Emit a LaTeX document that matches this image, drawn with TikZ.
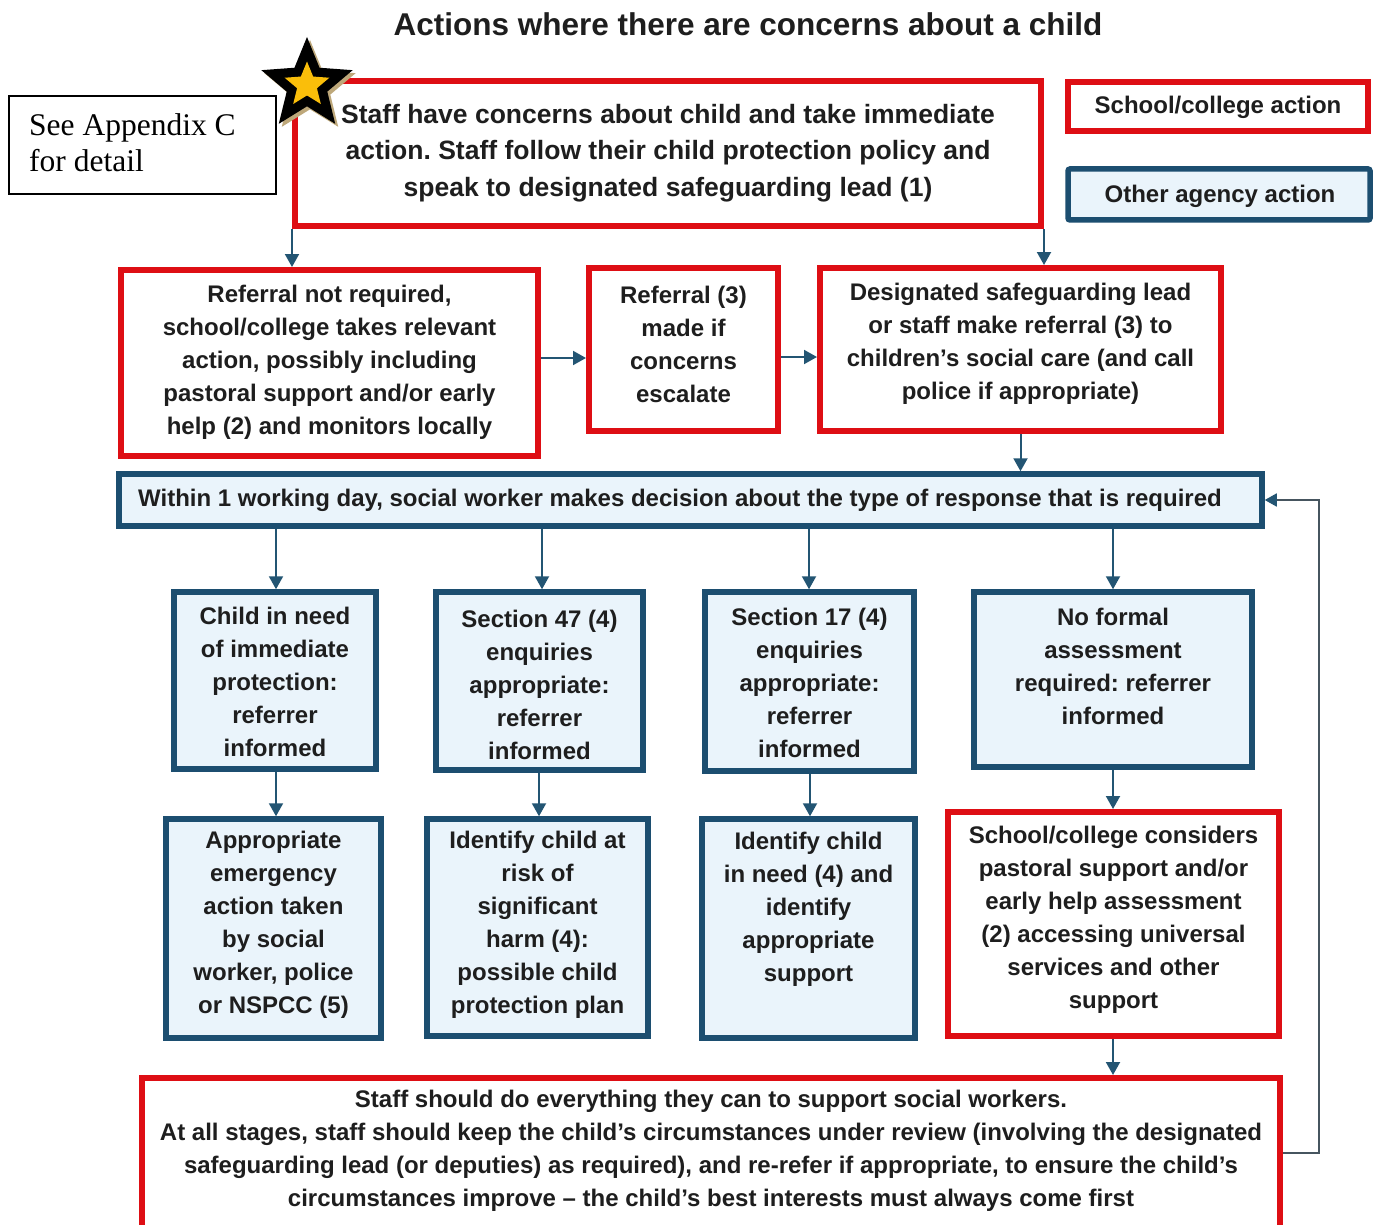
\documentclass[tikz,border=0pt]{standalone}
\usepackage{fontspec}
\setmainfont{Liberation Sans}
\newfontfamily\seriffont{Liberation Serif}
\usetikzlibrary{arrows.meta,shapes.geometric}
\definecolor{redline}{RGB}{222,14,20}
\definecolor{blueline}{RGB}{28,78,112}
\definecolor{bluefill}{RGB}{234,244,251}
\definecolor{arrowblue}{RGB}{35,85,115}
\definecolor{txt}{RGB}{30,30,30}
\definecolor{fbgray}{RGB}{70,85,95}
\definecolor{startan}{RGB}{190,168,122}
\definecolor{staryellow}{RGB}{250,190,10}
\frenchspacing
\begin{document}
\begin{tikzpicture}[x=1pt,y=-1pt,
  redbox/.style={draw=redline, line width=6pt, fill=white, rectangle, inner sep=0pt},
  bluebox/.style={draw=blueline, line width=5.5pt, fill=bluefill, rectangle, inner sep=0pt},
  tx/.style={font=\fontsize{24}{33}\selectfont\bfseries\frenchspacing, align=center, text=txt, inner sep=0pt},
  arr/.style={draw=arrowblue, line width=2pt, -{Triangle[width=14pt,length=13pt]}},
  fb/.style={draw=fbgray, line width=1.8pt, -{Triangle[width=13pt,length=12pt,color=arrowblue]}}
]
\useasboundingbox[fill=white] (0,0) rectangle (1373,1225);

% title
\node[font=\fontsize{31.5}{36}\selectfont\bfseries, text=txt, inner sep=0pt] (title) at (748,24) {Actions where there are concerns about a child};

% appendix box
\node[draw=black, line width=1.6pt, rectangle, minimum width=267pt, minimum height=98pt, inner sep=0pt] (app) at (142.5,145) {};
\node[font=\seriffont\fontsize{31.5}{36}\selectfont, align=left, anchor=west, inner sep=0pt, text=black] (appT) at (29,143) {See Appendix C\\for detail};

% legend
\node[redbox, minimum width=300pt, minimum height=49pt] (legR) at (1218,106.5) {};
\node[tx] (legRT) at (1218,107) {School/college action};
\node[bluebox, minimum width=302pt, minimum height=51pt, rounded corners=2pt] (legB) at (1219,194.5) {};
\node[tx] (legBT) at (1220,196) {Other agency action};

% top box
\node[redbox, minimum width=746pt, minimum height=145pt] (top) at (668,153.5) {};
\node[tx, font=\fontsize{26.5}{36.5}\selectfont\bfseries\frenchspacing] (topT) at (668,153) {Staff have concerns about child and take immediate\\action. Staff follow their child protection policy and\\speak to designated safeguarding lead (1)};

% star
\node[star, star points=5, star point ratio=2.25, fill=startan, minimum size=96pt, inner sep=0pt] (starS) at (310,88) {};
\node[star, star points=5, star point ratio=2.25, fill=black, minimum size=96pt, inner sep=0pt] (starB) at (307,85) {};
\node[star, star points=5, star point ratio=2.25, fill=staryellow, minimum size=47pt, inner sep=0pt] (starY) at (307,85) {};

% second row
\node[redbox, minimum width=417pt, minimum height=186pt] (b2) at (329.5,363) {};
\node[tx] (b2T) at (329.5,362) {Referral not required,\\school/college takes relevant\\action, possibly including\\pastoral support and/or early\\help (2) and monitors locally};
\node[redbox, minimum width=189pt, minimum height=163pt] (b3) at (683.5,349.5) {};
\node[tx] (b3T) at (683.5,344) {Referral (3)\\made if\\concerns\\escalate};
\node[redbox, minimum width=401pt, minimum height=163pt] (b4) at (1020.5,349.5) {};
\node[tx] (b4T) at (1020.5,344) {Designated safeguarding lead\\or staff make referral (3) to\\children’s social care (and call\\police if appropriate)};

% bar
\node[bluebox, minimum width=1143pt, minimum height=52pt] (bar) at (690.5,500) {};
\node[tx] (barT) at (680,500) {Within 1 working day, social worker makes decision about the type of response that is required};

% row 1
\node[bluebox, minimum width=202pt, minimum height=177pt] (ra) at (275,680.5) {};
\node[tx] (raT) at (275,682) {Child in need\\of immediate\\protection:\\referrer\\informed};
\node[bluebox, minimum width=207pt, minimum height=178pt] (rb) at (539.5,681) {};
\node[tx] (rbT) at (539.5,685) {Section 47 (4)\\enquiries\\appropriate:\\referrer\\informed};
\node[bluebox, minimum width=209pt, minimum height=179pt] (rc) at (809.5,681.5) {};
\node[tx] (rcT) at (809.5,683) {Section 17 (4)\\enquiries\\appropriate:\\referrer\\informed};
\node[bluebox, minimum width=278pt, minimum height=175pt] (rd) at (1113,679.5) {};
\node[tx] (rdT) at (1113,666) {No formal\\assessment\\required: referrer\\informed};

% row 2
\node[bluebox, minimum width=215pt, minimum height=219pt] (sa) at (273.5,928.5) {};
\node[tx] (saT) at (273.5,925) {Appropriate\\emergency\\action taken\\by social\\worker, police\\or NSPCC (5)};
\node[bluebox, minimum width=221pt, minimum height=217pt] (sb) at (537.5,927.5) {};
\node[tx] (sbT) at (537.5,925) {Identify child at\\risk of\\significant\\harm (4):\\possible child\\protection plan};
\node[bluebox, minimum width=213pt, minimum height=219pt] (sc) at (808.5,928.5) {};
\node[tx] (scT) at (808.5,909) {Identify child\\in need (4) and\\identify\\appropriate\\support};
\node[redbox, minimum width=331pt, minimum height=224pt] (sd) at (1113.5,924) {};
\node[tx] (sdT) at (1113.5,920) {School/college considers\\pastoral support and/or\\early help assessment\\(2) accessing universal\\services and other\\support};

% bottom box
\node[redbox, minimum width=1138pt, minimum height=182pt] (bot) at (711,1169) {};
\node[tx] (botT) at (711,1151) {Staff should do everything they can to support social workers.\\At all stages, staff should keep the child’s circumstances under review (involving the designated\\safeguarding lead (or deputies) as required), and re-refer if appropriate, to ensure the child’s\\circumstances improve – the child’s best interests must always come first};

% connectors
\draw[arr] (top.south west) -- (top.south west |- b2.north);
\draw[arr] (top.south east) -- (top.south east |- b4.north);
\draw[arr] (b2.east |- 0,358) -- (b3.west |- 0,358);
\draw[arr] (b3.east |- 0,357) -- (b4.west |- 0,357);
\draw[arr] (b4.south) -- (b4.south |- bar.north);
\draw[arr] (bar.south -| 276,0) -- (ra.north -| 276,0);
\draw[arr] (bar.south -| 542,0) -- (rb.north -| 542,0);
\draw[arr] (bar.south -| 809,0) -- (rc.north -| 809,0);
\draw[arr] (bar.south -| 1113,0) -- (rd.north -| 1113,0);
\draw[arr] (ra.south -| 276,0) -- (sa.north -| 276,0);
\draw[arr] (rb.south -| 539,0) -- (sb.north -| 539,0);
\draw[arr] (rc.south -| 810,0) -- (sc.north -| 810,0);
\draw[arr] (rd.south) -- (rd.south |- sd.north);
\draw[arr] (sd.south -| 1113,0) -- (bot.north -| 1113,0);
\coordinate (fbA) at (1319,1153);
\draw[fb] (bot.east |- fbA) -- (fbA) -- (fbA |- bar.east) -- (bar.east);
\end{tikzpicture}
\end{document}
